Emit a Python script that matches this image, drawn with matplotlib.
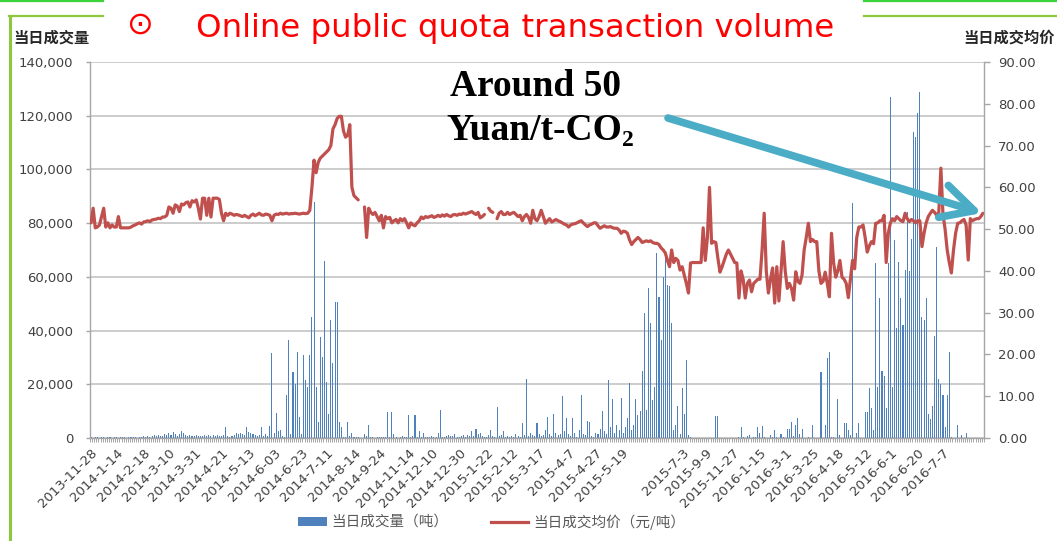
import matplotlib
matplotlib.use('Agg')
import matplotlib.pyplot as plt
from matplotlib.lines import Line2D
from matplotlib.patches import Rectangle
import numpy as np

plt.rcParams['font.family'] = ['DejaVu Sans', 'Noto Sans CJK SC']

# ---------------- data ----------------
volume = [
    300, 0, 200, 400, 0, 200, 300, 0, 500, 200, 0, 300, 200, 0, 300, 400, 200, 0, 300, 200, 400, 300, 0, 500, 400,
    600, 500, 800, 400, 700, 1000, 600, 1200, 900, 800, 1500, 1300, 1800, 1100, 2200, 1400, 800, 1500, 2500, 2000, 1200, 900, 1000, 700, 800,
    1000, 800, 600, 900, 1200, 700, 1000, 800, 1200, 900, 1100, 700, 900, 1000, 4000, 600, 500, 800, 1200, 2000, 1500, 2000, 1500, 1200, 4000,
    2200, 2000, 1500, 1200, 800, 1000, 4000, 800, 1500, 600, 4500, 31500, 2000, 9300, 2500, 3000, 800, 500, 16000, 36500, 1500, 24600, 20000, 32000, 8000,
    1500, 31000, 21600, 19000, 31000, 45000, 88000, 19000, 6000, 37600, 30000, 66000, 21000, 9000, 44000, 28000, 50600, 50600, 6000, 4000, 500, 300, 6000, 800, 2000,
    300, 500, 200, 0, 0, 1500, 800, 5000, 300, 200, 0, 500, 300, 200, 400, 300, 9700, 500, 9700, 1500, 300, 0, 400, 600, 300,
    500, 8500, 300, 600, 8500, 400, 2500, 300, 2000, 500, 300, 200, 600, 400, 300, 2000, 10400, 500, 300, 800, 1200, 600, 900, 1500, 400,
    300, 800, 1000, 500, 1200, 600, 2500, 800, 3500, 1500, 2000, 600, 400, 300, 1200, 3000, 800, 400, 11500, 600, 1000, 2500, 300, 800, 500,
    600, 400, 1500, 800, 500, 5500, 1000, 22000, 800, 2000, 1200, 900, 5500, 1500, 600, 1000, 3000, 8000, 1500, 800, 9000, 2000, 1000, 1500, 15600,
    2500, 7500, 1500, 800, 7500, 2000, 500, 3000, 16000, 1500, 1200, 6500, 6000, 800, 500, 2000, 1500, 3500, 10000, 2500, 1500, 21600, 4000, 14600, 2000,
    5000, 3000, 15000, 2000, 4000, 7500, 20500, 3000, 5000, 14500, 8500, 10000, 25000, 46500, 10500, 56000, 43000, 14000, 19000, 69000, 52500, 36500, 60000, 67000, 57000,
    56600, 43000, 3000, 5000, 12000, 1500, 18500, 9000, 29000, 1000, 300, 0, 0, 0, 0, 0, 0, 0, 0, 0, 0, 0, 8300, 8300, 0,
    0, 0, 0, 0, 0, 0, 0, 0, 300, 4000, 500, 0, 800, 1200, 0, 300, 500, 4000, 2000, 4500, 300, 0, 0, 1000, 300,
    3000, 500, 0, 1500, 300, 0, 3500, 3500, 6000, 800, 5000, 7500, 1500, 3500, 0, 0, 300, 0, 5000, 0, 0, 0, 24600, 0, 5000,
    29800, 32000, 500, 300, 0, 14500, 1200, 0, 5500, 5500, 3000, 1000, 87500, 0, 2000, 5500, 0, 0, 9700, 9700, 18600, 11000, 3000, 65000, 19000,
    52000, 25000, 23000, 11000, 65000, 127000, 19000, 73700, 41000, 65500, 52000, 42000, 62500, 84000, 62000, 74000, 114000, 112000, 121000, 129000, 45000, 44000, 52000, 9000, 7000,
    12000, 38000, 71000, 22000, 20000, 16000, 4000, 16000, 32000, 500, 0, 0, 5000, 0, 1000, 0, 2000, 0, 0, 0, 0, 0, 0, 0, 0,
]

price = [
    51.5, 55.0, 50.3, 50.5, 51.0, 53.0, 55.0, 50.5, 51.5, 50.3, 51.0, 50.5, 50.5, 53.0, 50.3, 50.3, 50.3, 50.3, 50.3, 50.5, 50.8, 51.0, 51.3, 51.5, 51.2,
    51.7, 51.8, 52.0, 51.8, 52.2, 52.3, 52.4, 52.6, 52.5, 52.9, 52.9, 53.3, 55.3, 55.0, 53.8, 55.8, 55.5, 54.2, 56.0, 55.8, 56.3, 56.5, 55.3, 56.8, 56.5,
    57.0, 55.0, 52.4, 57.4, 57.4, 53.3, 57.4, 52.9, 57.4, 57.4, 57.4, 57.1, 53.8, 52.0, 53.8, 53.3, 53.8, 53.6, 53.3, 53.5, 53.4, 53.2, 53.0, 53.3, 53.0,
    52.7, 53.3, 53.6, 53.2, 53.5, 53.8, 53.4, 53.3, 53.6, 53.5, 53.3, 52.0, 53.3, 53.6, 53.5, 53.8, 53.6, 53.7, 53.8, 53.6, 53.7, 53.7, 53.8, 53.7, 53.6,
    53.7, 53.8, 53.7, 53.8, 54.5, 60.0, 66.5, 63.5, 66.0, 67.0, 67.5, 68.0, 68.5, 69.0, 70.0, 74.0, 75.0, 76.5, 77.0, 77.0, 73.5, 72.0, 72.5, 75.0, 60.0,
    58.0, 57.5, 57.0, None, None, 55.3, 48.0, 55.0, 54.0, 53.5, 54.0, 53.0, 52.0, 53.3, 50.3, 53.0, 52.5, 52.8, 51.5, 52.0, 52.3, 51.5, 52.5, 52.0, 52.5,
    51.5, 50.3, 51.5, 51.0, 50.8, 51.5, 52.0, 52.9, 52.5, 53.0, 52.8, 53.0, 53.2, 52.8, 53.0, 53.3, 53.0, 53.4, 53.1, 53.5, 53.2, 53.0, 53.4, 53.5, 53.3,
    53.6, 53.5, 53.8, 53.6, 53.8, 54.0, 54.2, 53.8, 53.5, 54.0, 52.7, 53.0, 53.5, None, 55.0, 54.3, 54.0, None, 52.5, 53.8, 54.2, 53.5, 53.5, 54.0, 53.5,
    53.8, 54.0, 53.5, 53.0, 53.3, 52.0, 53.0, 53.5, 52.8, 51.4, 54.5, 52.5, 52.0, 53.0, 54.5, 53.0, 51.4, 52.0, 52.5, 51.7, 52.0, 52.3, 52.0, 51.8, 51.5,
    51.2, 51.0, 50.5, 51.0, 51.2, 51.3, 51.5, 51.8, 52.0, 51.5, 51.0, 50.6, 51.0, 51.2, 51.5, 51.5, 50.8, 50.2, 50.5, 50.8, 50.5, 50.5, 50.6, 50.3, 50.2,
    50.2, 49.8, 49.0, 49.5, 49.4, 49.0, 47.4, 46.3, 47.0, 47.5, 48.0, 47.5, 46.8, 47.0, 47.2, 47.0, 47.2, 46.8, 46.6, 46.6, 46.3, 45.5, 45.0, 44.3, 42.5,
    41.0, 45.0, 42.0, 43.0, 42.5, 40.2, 41.0, 39.0, 37.0, 34.7, 41.9, 42.0, 42.0, 42.0, 42.0, 42.0, 50.3, 42.5, 48.0, 60.0, 46.6, 47.0, 46.8, 43.0, 39.7,
    41.0, 42.5, 44.0, 45.0, 44.0, 43.0, 42.0, 41.9, 33.5, 40.0, 38.0, 33.5, 37.0, 37.8, 35.0, 37.0, 37.5, 38.0, 38.0, 45.0, 53.8, 40.0, 34.7, 38.0, 40.7,
    32.3, 41.0, 32.8, 40.0, 47.0, 40.0, 35.8, 37.0, 35.8, 33.0, 39.8, 37.5, 37.0, 39.0, 45.0, 48.0, 51.4, 47.0, 47.5, 47.0, 47.0, 40.0, 37.0, 37.5, 39.7,
    37.0, 33.8, 49.0, 42.0, 38.5, 40.0, 42.5, 38.5, 38.0, 37.0, 33.6, 38.0, 42.5, 40.5, 48.0, 50.5, 50.5, 51.0, 48.0, 44.5, 46.0, 47.0, 46.5, 51.4, 51.5,
    52.0, 52.0, 53.3, 42.0, 49.0, 51.5, 52.5, 52.0, 53.0, 52.5, 52.0, 51.8, 53.8, 52.5, 51.8, 52.3, 52.0, 51.5, 52.0, 52.0, 45.8, 49.0, 51.5, 53.0, 53.8,
    54.5, 54.0, 53.3, 54.0, 64.6, 53.5, 50.0, 45.0, 42.0, 39.5, 45.0, 49.0, 51.4, 51.5, 52.0, 52.3, 51.0, 42.6, 52.5, 52.0, 52.3, 52.5, 52.5, 53.0, 53.8,
]

date_labels = ['2013-11-28', '2014-1-14', '2014-2-18', '2014-3-10', '2014-3-31', '2014-4-21',
               '2014-5-13', '2014-6-03', '2014-6-23', '2014-7-11', '2014-8-14', '2014-9-24',
               '2014-11-14', '2014-12-10', '2014-12-30', '2015-1-22', '2015-2-12', '2015-3-17',
               '2015-4-7', '2015-4-27', '2015-5-19', '2015-7-3', '2015-9-9', '2015-11-27',
               '2016-1-15', '2016-3-1', '2016-3-25', '2016-4-18', '2016-5-12', '2016-6-1',
               '2016-6-20', '2016-7-7']
date_label_pos = [0, 12, 25, 37, 49, 62, 75, 87, 100, 112, 125, 137, 151, 162, 175, 188, 200,
                  213, 227, 240, 252, 281, 292, 305, 318, 330, 343, 355, 368, 380, 393, 405]

vol_ticks = [0, 20000, 40000, 60000, 80000, 100000, 120000, 140000]
price_ticks = [0, 10, 20, 30, 40, 50, 60, 70, 80, 90]

title = 'Online public quota transaction volume'
vol_axis_title = '当日成交量'
price_axis_title = '当日成交均价'
vol_legend = '当日成交量（吨）'
price_legend = '当日成交均价（元/吨）'

# ---------------- layout helpers ----------------
W, H = 1057, 541
fig = plt.figure(figsize=(W / 100, H / 100), dpi=100)
def fx(x): return x / W
def fy(y): return 1 - y / H

BAR = '#4F81BD'
RED = '#C0504D'
GRID = '#C8C8C8'
AXC = '#A6A6A6'
TXT = '#404040'
CJK = ['Noto Sans CJK SC', 'DejaVu Sans']

ax = fig.add_axes([fx(90), fy(438), fx(984) - fx(90), fy(62) - fy(438)])
ax2 = ax.twinx()

n = len(volume)
idx = np.arange(n)
ax.bar(idx, volume, width=0.5, color=BAR, linewidth=0)
p = np.array([np.nan if v is None else v for v in price[:n]], float)
ax2.plot(idx[:len(p)], p, color=RED, lw=2.3, solid_joinstyle='round', solid_capstyle='round')

ax.set_xlim(-0.5, n - 0.5)
ax.set_ylim(0, 140000)
ax2.set_ylim(0, 90)

ax.set_yticks(vol_ticks)
ax.set_yticklabels([f'{v:,}' for v in vol_ticks])
ax2.set_yticks(price_ticks)
ax2.set_yticklabels([f'{v:.2f}' for v in price_ticks])

ax.yaxis.grid(True, color=GRID, lw=1.3)
ax.set_axisbelow(True)

for s in ['top', 'right']:
    ax.spines[s].set_visible(False)
for s in ['top', 'left', 'bottom']:
    ax2.spines[s].set_visible(False)
ax.spines['left'].set_color(AXC)
ax.spines['bottom'].set_color(AXC)
ax2.spines['right'].set_color(AXC)
for sp in (ax.spines['left'], ax.spines['bottom'], ax2.spines['right']):
    sp.set_linewidth(1.0)

ax.set_xticks(date_label_pos)
ax.set_xticklabels(date_labels, rotation=45, ha='right', rotation_mode='anchor')
ax.set_xticks(np.arange(n + 1) - 0.5, minor=True)
ax.tick_params(axis='x', which='major', length=0, pad=6, labelsize=9.5, labelcolor=TXT)
ax.tick_params(axis='x', which='minor', length=3, width=0.7, color=AXC)
ax.tick_params(axis='y', length=3, width=1, color=AXC, pad=9, labelsize=9.5, labelcolor=TXT)
ax2.tick_params(axis='y', length=4, width=1, color=AXC, pad=6, labelsize=9.5, labelcolor=TXT)

# ---------------- slide decorations ----------------
GREEN1 = '#3CD23C'
GREEN2 = '#8DC63F'
for x0, x1 in [(0, 103), (864, W)]:
    fig.add_artist(Line2D([fx(x0), fx(x1)], [fy(0.8), fy(0.8)], color=GREEN1, lw=1.6))
for x0, x1 in [(9, 103), (864, W)]:
    fig.add_artist(Line2D([fx(x0), fx(x1)], [fy(16), fy(16)], color=GREEN2, lw=1.6))
fig.add_artist(Line2D([fx(10), fx(10)], [fy(16), fy(H)], color=GREEN2, lw=2.2))

fig.text(fx(140), fy(25), '⊙', color='#FF0000', fontsize=23, ha='center', va='center',
         family='DejaVu Sans')
fig.text(fx(196), fy(37), title, color='#FF0000', fontsize=23.3, ha='left', va='baseline',
         family='DejaVu Sans')

fig.text(fx(13), fy(38), vol_axis_title, fontsize=11, weight='bold', ha='left', va='center',
         family=CJK, color='#262626')
fig.text(fx(1055), fy(38), price_axis_title, fontsize=11, weight='bold', ha='right', va='center',
         family=CJK, color='#262626')

# legend
fig.add_artist(Rectangle((fx(298), fy(526)), fx(327) - fx(298), fy(517) - fy(526),
                         transform=fig.transFigure, color=BAR, lw=0))
fig.text(fx(331), fy(522), vol_legend, fontsize=10.5, ha='left', va='center', family=CJK, color='#595959')
fig.add_artist(Line2D([fx(491), fx(528)], [fy(522), fy(522)], color=RED, lw=2.3))
fig.text(fx(533), fy(522), price_legend, fontsize=10.5, ha='left', va='center', family=CJK, color='#595959')

# annotation
fig.text(fx(536), fy(96), 'Around 50', fontsize=27, weight='bold', ha='center', va='baseline',
         family='Liberation Serif', color='black')
t1 = fig.text(fx(446), fy(140), 'Yuan/t-CO', fontsize=27, weight='bold', ha='left', va='baseline',
              family='Liberation Serif', color='black')
ax2.annotate('2', xy=(1, 0), xycoords=t1, xytext=(0, -2), textcoords='offset points',
             fontsize=17, weight='bold', family='Liberation Serif', ha='left', va='bottom',
             annotation_clip=False)

ax2.annotate('', xy=(982, H - 213), xycoords='figure pixels', xytext=(668, H - 118),
             textcoords='figure pixels',
             arrowprops=dict(arrowstyle='->, head_length=1.15, head_width=0.6', lw=5.5,
                             color='#4BACC6', mutation_scale=20, shrinkA=0, shrinkB=0),
             annotation_clip=False)

fig.savefig('out.png', dpi=100)
